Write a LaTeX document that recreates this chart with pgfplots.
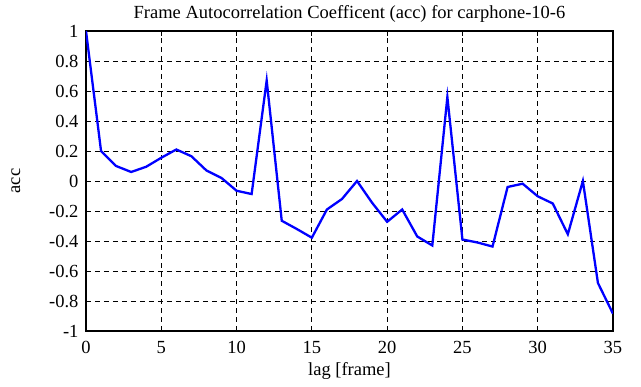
\documentclass[border=0pt]{standalone}
\usepackage{fontspec}
\setmainfont{Liberation Serif}
\usepackage{pgfplots}
\pgfplotsset{compat=1.18}
\begin{document}
\begin{tikzpicture}
\begin{axis}[
  scale only axis,
  width=527pt, height=300pt,
  xmin=0, xmax=35, ymin=-1, ymax=1,
  xtick={0,5,...,35},
  ytick={-1,-0.8,...,1.01},
  yticklabel style={/pgf/number format/fixed, xshift=-4pt},
  xticklabel style={yshift=-7pt},
  /pgf/number format/assume math mode=true,
  tick label style={font=\fontsize{18.5}{21}\selectfont, black},
  label style={font=\fontsize{18.5}{21}\selectfont},
  title style={font=\fontsize{18.5}{21}\selectfont, yshift=-1pt},
  title={Frame Autocorrelation Coefficent (acc) for carphone-10-6},
  xlabel={lag [frame]},
  ylabel={acc},
  xlabel style={yshift=-2pt},
  ylabel style={yshift=22pt},
  grid=major,
  major grid style={black, dashed, line width=0.8pt, dash pattern=on 5pt off 4pt},
  axis line style={black, line width=1.6pt},
  tick style={black, line width=0.8pt},
  major tick length=5pt,
  tick align=inside,
  xtick pos=both, ytick pos=both,
]
\addplot[blue, line width=2.3pt, mark=none] coordinates {
(0,1.0) (1,0.20) (2,0.10) (3,0.06) (4,0.095) (5,0.155) (6,0.21) (7,0.165)
(8,0.07) (9,0.02) (10,-0.065) (11,-0.087) (12,0.67) (13,-0.265) (14,-0.32)
(15,-0.378) (16,-0.19) (17,-0.12) (18,0.0) (19,-0.145) (20,-0.272) (21,-0.19)
(22,-0.37) (23,-0.43) (24,0.56) (25,-0.39) (26,-0.41) (27,-0.437) (28,-0.04)
(29,-0.018) (30,-0.102) (31,-0.15) (32,-0.355) (33,0.0) (34,-0.68) (35,-0.885)
};
\end{axis}
\pgfresetboundingbox
\useasboundingbox (-86pt,-56pt) rectangle (555pt,331pt);
\end{tikzpicture}
\end{document}
